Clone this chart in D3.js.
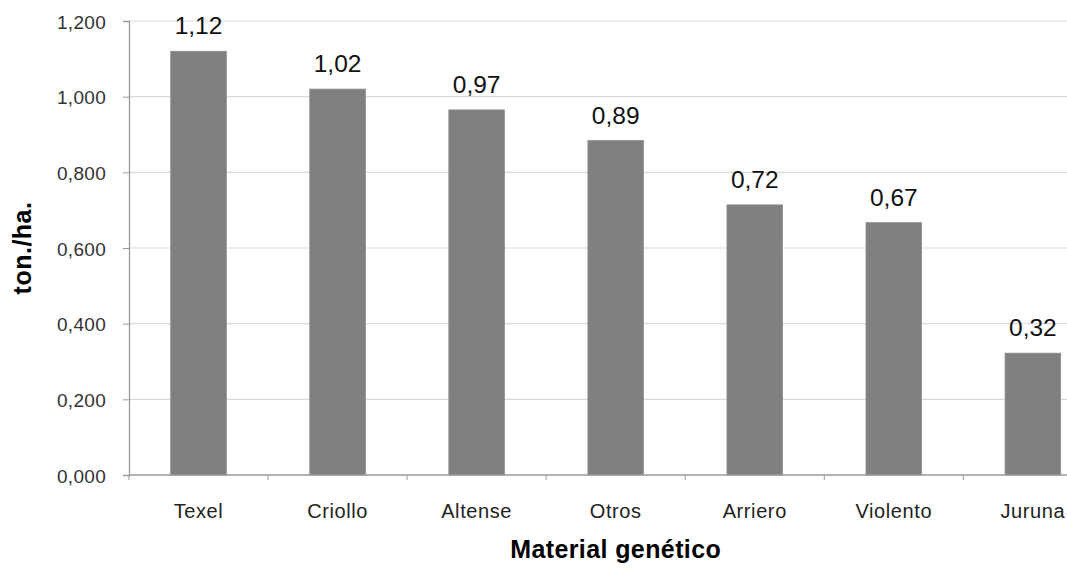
<!DOCTYPE html>
<html>
<head>
<meta charset="utf-8">
<script src="https://cdn.jsdelivr.net/npm/d3@7"></script>
<style>
  html, body { margin: 0; padding: 0; background: #fff; }
  svg { display: block; font-family: "Liberation Sans", Arial, sans-serif; }
</style>
</head>
<body>
<svg id="chart" width="1067" height="575"></svg>
<script>
// data
var categories = ["Texel", "Criollo", "Altense", "Otros", "Arriero", "Violento", "Juruna"];
var values = [1.12, 1.02, 0.965, 0.884, 0.714, 0.667, 0.322];
var valueLabels = ["1,12", "1,02", "0,97", "0,89", "0,72", "0,67", "0,32"];
var yTicks = [0, 0.2, 0.4, 0.6, 0.8, 1.0, 1.2];

var svg = d3.select("#chart");

// plot area (the right end runs past the window, like the original)
// note: "top" is taken by window.top, so plotTop etc.
var plotLeft = 129, plotRight = 1102.4, plotTop = 21, plotBottom = 475;

var x = d3.scaleBand()
	.domain(categories)
	.range([plotLeft, plotRight])
	.padding(0);

var y = d3.scaleLinear()
	.domain([0, 1.2])
	.range([plotBottom, plotTop]);

var fmt = function(d) { return d3.format(".3f")(d).replace(".", ","); };

//gridlines
svg.append("g")
	.selectAll("line")
	.data(yTicks.filter(function(d) { return d > 0; }))
	.enter().append("line")
	.attr("x1", plotLeft)
	.attr("x2", plotRight)
	.attr("y1", function(d) { return y(d); })
	.attr("y2", function(d) { return y(d); })
	.style("stroke", "#d9d9d9")
	.style("stroke-width", 1.2);

// y axis
var yAxis = svg.append("g")
	.attr("transform", "translate(" + plotLeft + ",0)")
	.call(d3.axisLeft(y).tickValues(yTicks).tickSize(6).tickPadding(17).tickFormat(fmt));

yAxis.select(".domain").style("stroke", "#9a9a9a").style("stroke-width", 1.3);
yAxis.selectAll(".tick line").style("stroke", "#9a9a9a");
yAxis.selectAll(".tick text")
	.style("font-size", "19px")
	.style("fill", "#333")
	.style("letter-spacing", "0.3px")
	.attr("dy", "0.38em");

// bars
var barW = x.bandwidth() * 0.4;
svg.append("g")
	.selectAll("rect")
	.data(categories)
	.enter().append("rect")
	.attr("x", function(d) { return x(d) + (x.bandwidth() - barW) / 2; })
	.attr("y", function(d, i) { return y(values[i]); })
	.attr("width", barW)
	.attr("height", function(d, i) { return plotBottom - y(values[i]); })
	.style("fill", "#808080")
	.style("stroke", "#8e8e8e")
	.style("stroke-width", 0.8);

// value labels
svg.append("g")
	.selectAll("text")
	.data(categories)
	.enter().append("text")
	.attr("x", function(d) { return x(d) + x.bandwidth() / 2; })
	.attr("y", function(d, i) { return y(values[i]) - 17; })
	.attr("text-anchor", "middle")
	.style("font-size", "24.5px")
	.style("fill", "#111")
	.text(function(d, i) { return valueLabels[i]; });

// x axis
var xAxis = svg.append("g")
	.attr("transform", "translate(0," + plotBottom + ")");

xAxis.append("line")
	.attr("x1", plotLeft)
	.attr("x2", plotRight)
	.style("stroke", "#9a9a9a")
	.style("stroke-width", 1.3);

xAxis.selectAll(".sep")
	.data(categories.concat(["end"]))
	.enter().append("line")
	.attr("class", "sep")
	.attr("x1", function(d, i) { return plotLeft + i * x.step(); })
	.attr("x2", function(d, i) { return plotLeft + i * x.step(); })
	.attr("y1", 0)
	.attr("y2", 5)
	.style("stroke", "#9a9a9a");

xAxis.selectAll(".cat")
	.data(categories)
	.enter().append("text")
	.attr("class", "cat")
	.attr("x", function(d) { return x(d) + x.bandwidth() / 2; })
	.attr("y", 43)
	.attr("text-anchor", "middle")
	.style("font-size", "20px")
	.style("letter-spacing", "0.6px")
	.style("fill", "#222")
	.text(function(d) { return d; });

// axis titles
svg.append("text")
	.attr("x", (plotLeft + plotRight) / 2)
	.attr("y", 558)
	.attr("text-anchor", "middle")
	.style("font-size", "25px")
	.style("font-weight", "bold")
	.style("letter-spacing", "0.4px")
	.style("fill", "#000")
	.text("Material genético");

svg.append("text")
	.attr("transform", "translate(31," + ((plotTop + plotBottom) / 2) + ") rotate(-90)")
	.attr("text-anchor", "middle")
	.style("font-size", "25px")
	.style("font-weight", "bold")
	.style("letter-spacing", "0.5px")
	.style("fill", "#000")
	.text("ton./ha.");
</script>
</body>
</html>
